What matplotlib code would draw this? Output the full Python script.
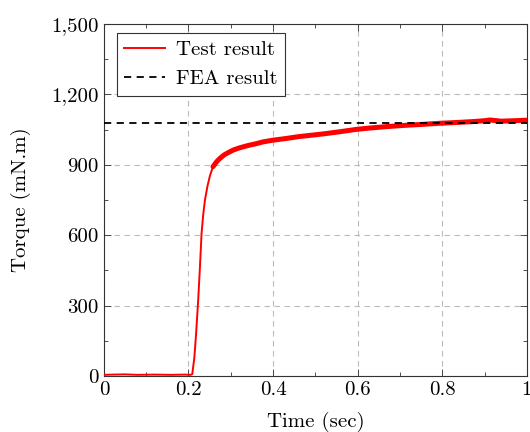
import numpy as np
import matplotlib
matplotlib.use("Agg")
import matplotlib.pyplot as plt
from matplotlib.ticker import MultipleLocator, FuncFormatter

plt.rcParams.update({
    "font.family": "serif",
    "font.serif": ["cmr10", "DejaVu Serif"],
    "mathtext.fontset": "cm",
    "axes.unicode_minus": False,
    "axes.formatter.use_mathtext": True,
    "font.size": 15,
})

# measured torque trace (sec, mN.m)
test_time = [0.0, 0.02, 0.05, 0.08, 0.12, 0.16, 0.19, 0.205, 0.209, 0.214,
             0.218, 0.223, 0.227, 0.231, 0.235, 0.239, 0.245, 0.251, 0.258,
             0.266, 0.274, 0.285, 0.295, 0.306, 0.32, 0.34, 0.36, 0.377,
             0.40, 0.43, 0.46, 0.495, 0.52, 0.558, 0.597, 0.63, 0.67,
             0.71, 0.75, 0.794, 0.83, 0.87, 0.90, 0.913, 0.94, 0.97, 1.0]
test_torque = [5, 6, 7, 5, 6, 5, 6, 5, 8, 80,
               180, 324, 460, 609, 690, 750, 810, 855, 892,
               912, 927, 943, 953, 963, 972, 982, 990, 998,
               1005, 1012, 1020, 1027, 1032, 1041, 1051, 1057, 1063,
               1068, 1072, 1077, 1080, 1084, 1088, 1091, 1086, 1088, 1090]

# finite element prediction
fea_time = [0.0, 1.0]
fea_torque = [1080, 1080]

x_ticks = [0, 0.2, 0.4, 0.6, 0.8, 1]
y_ticks = [0, 300, 600, 900, 1200, 1500]

fig = plt.figure(figsize=(5.3, 4.32), dpi=100)
ax = fig.add_axes([0.196, 0.1296, 0.798, 0.8148])

t = np.array(test_time)
v = np.array(test_torque)
ax.plot(t, v, color="red", lw=1.4, label="Test result", zorder=3,
        solid_joinstyle="round")
# noise band once the torque has settled
settled = t >= 0.258
ax.plot(t[settled], v[settled], color="red", lw=3.6,
        solid_capstyle="round", solid_joinstyle="round", zorder=3)
ax.plot(fea_time, fea_torque, color="black", lw=1.3, ls=(0, (4, 3)),
        label="FEA result", zorder=4)

ax.set_xlim(0, 1)
ax.set_ylim(0, 1500)
ax.set_xticks(x_ticks)
ax.set_yticks(y_ticks)
ax.xaxis.set_minor_locator(MultipleLocator(0.1))
ax.yaxis.set_minor_locator(MultipleLocator(150))
ax.xaxis.set_major_formatter(FuncFormatter(lambda x, p: "%g" % x))
ax.yaxis.set_major_formatter(FuncFormatter(lambda y, p: "{:,.0f}".format(y)))
ax.tick_params(which="both", direction="in", top=True, right=True,
               color="#333333", labelsize=15)
ax.tick_params(which="major", length=5, width=0.6)
ax.tick_params(which="minor", length=3, width=0.6)
ax.tick_params(axis="x", pad=4)
ax.tick_params(axis="y", pad=4)
for s in ax.spines.values():
    s.set_color("#333333")
    s.set_linewidth(0.8)

ax.grid(True, which="major", color="#bbbbbb", ls=(0, (5, 4)), lw=0.8)
ax.set_axisbelow(True)

ax.set_xlabel("Time (sec)", fontsize=15, labelpad=9)
ax.set_ylabel("Torque (mN.m)", fontsize=15, labelpad=14)

leg = ax.legend(loc="upper left", bbox_to_anchor=(0.02, 0.985), fontsize=15,
                fancybox=False, framealpha=1, edgecolor="#333333",
                handlelength=2.0, handletextpad=0.5, borderpad=0.35,
                labelspacing=0.5, borderaxespad=0.2)
leg.get_frame().set_linewidth(0.8)

fig.savefig("out.png", dpi=100)
